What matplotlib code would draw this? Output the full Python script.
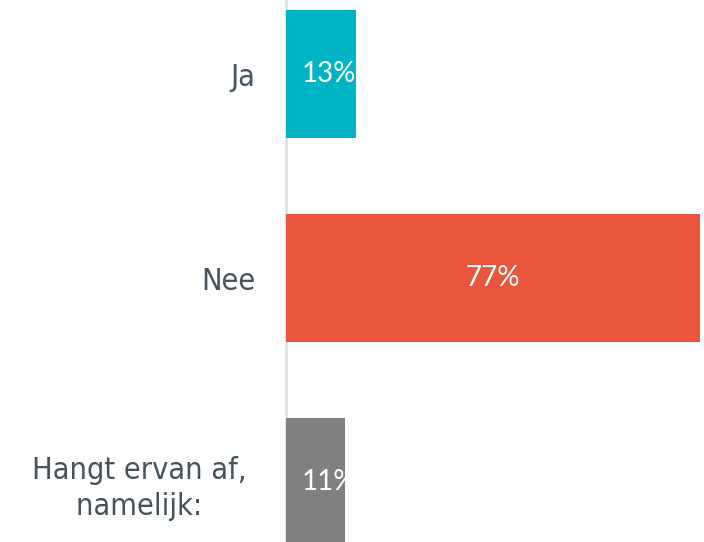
import matplotlib.pyplot as plt

categories = ["Ja", "Nee", "Hangt ervan af, \nnamelijk: "]
values = [13, 77, 11]
colors = ["#00b5c3", "#e9553d", "#808080"]

plt.rcParams['font.family'] = ['DejaVu Sans']

fig = plt.figure(figsize=(7.04, 5.42), dpi=100)
ax = fig.add_axes([286 / 704, 0, 414 / 704, 1])

pos = list(range(len(categories)))
bars = ax.barh(pos, values, height=128 / 204, color=colors)
ax.set_xlim(0, 77)
ax.set_ylim((542 - 74) / 204, -74 / 204)

ax.set_yticks(pos)
ax.set_yticklabels(categories, fontsize=22, color="#44535c", multialignment="center",
                   fontstretch="condensed", linespacing=1.3)
ax.tick_params(axis="y", length=0, pad=22)
ax.set_xticks([])
for side in ["top", "right", "bottom"]:
    ax.spines[side].set_visible(False)
ax.spines["left"].set_color("#dde3e8")
ax.spines["left"].set_linewidth(2)
ax.spines["left"].set_zorder(0)

for bar, v in zip(bars, values):
    y = bar.get_y() + bar.get_height() / 2
    if v > 30:
        t = ax.annotate(f"{v}%", (v / 2, y), ha="center", va="center",
                        fontsize=20, color="white", family="Lato")
    else:
        t = ax.annotate(f"{v}%", (0, y), xytext=(16, 0), textcoords="offset pixels",
                        ha="left", va="center", fontsize=20, color="white", family="Lato")
    t.set_clip_path(bar)

fig.savefig("out.png")
